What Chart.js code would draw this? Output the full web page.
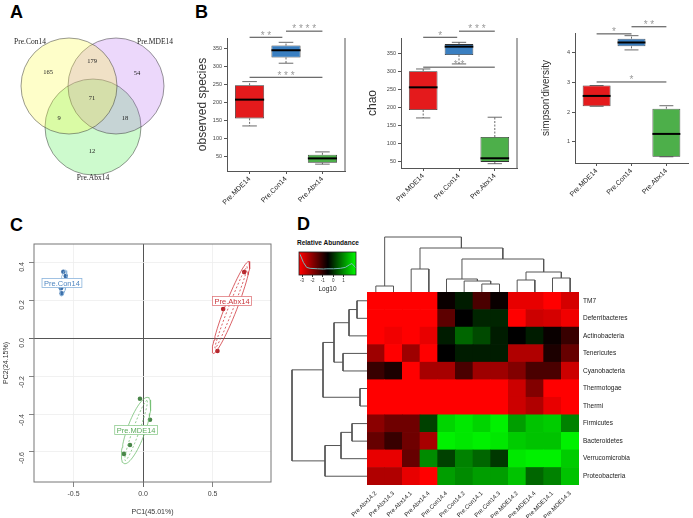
<!DOCTYPE html>
<html lang="en">
<head>
<meta charset="UTF-8">
<title>Pre-treatment microbiota panels</title>
<script src="https://cdn.jsdelivr.net/npm/chart.js"></script>
<style>
    body { margin: 0; background: #fff; font-family: "Liberation Sans", Arial, sans-serif; }
    #fig { position: relative; width: 693px; height: 518px; overflow: hidden; }
    #fig canvas { position: absolute; }
    .tag { position: absolute; font-weight: bold; font-size: 18px; line-height: 18px; color: #000; }
    .keytitle { position: absolute; font-weight: bold; font-size: 6.5px; line-height: 8px; color: #111; }
</style>
</head>
<body>
<div id="fig">
    <div class="tag" style="left:10px;top:3px">A</div>
    <div class="tag" style="left:195px;top:3px">B</div>
    <div class="tag" style="left:10px;top:216px">C</div>
    <div class="tag" style="left:297px;top:215px">D</div>
    <div class="keytitle" style="left:297px;top:239px">Relative Abundance</div>

    <canvas id="venn" width="190" height="200" style="left:0;top:0"></canvas>
    <canvas id="obs" width="160" height="210" style="left:190px;top:15px"></canvas>
    <canvas id="chao" width="170" height="210" style="left:352px;top:15px"></canvas>
    <canvas id="simp" width="163" height="215" style="left:530px;top:10px"></canvas>
    <canvas id="pca" width="290" height="282" style="left:0;top:236px"></canvas>
    <canvas id="key" width="68" height="58" style="left:295px;top:236px"></canvas>
    <canvas id="dtop" width="212" height="62" style="left:367px;top:230px"></canvas>
    <canvas id="dleft" width="82" height="193" style="left:285px;top:292px"></canvas>
    <canvas id="heat" width="353" height="226" style="left:340px;top:292px"></canvas>
</div>

<script>
    // ---- A: Venn ----
    const vennSets = ['Pre.Con14', 'Pre.MDE14', 'Pre.Abx14'];
    // Con only, Con&MDE, MDE only, all three, Con&Abx, MDE&Abx, Abx only
    const vennCounts = [165, 179, 54, 71, 9, 18, 12];

    // ---- B: alpha diversity boxplots ----
    const groups = ['Pre.MDE14', 'Pre.Con14', 'Pre.Abx14'];
    const obsLow = [135, 309, 29];
    const obsQ1 = [156, 325, 33];
    const obsMed = [208, 345, 45];
    const obsQ3 = [248, 358, 55];
    const obsHigh = [258, 367, 63];
    const obsSig = [[1, 1.9, 381, '**'], [2, 3, 398, '****'], [1, 3, 270, '***']];
    const obsTicks = [50, 100, 150, 200, 250, 300, 350];

    const chaoLow = [170, 320, 43];
    const chaoQ1 = [192, 345, 48];
    const chaoMed = [255, 368, 58];
    const chaoQ3 = [300, 375, 117];
    const chaoHigh = [306, 380, 172];
    const chaoSig = [[1, 1.95, 394, '*'], [2, 3, 411, '***'], [1, 3, 311, '**']];
    const chaoTicks = [50, 100, 150, 200, 250, 300, 350];

    const simLow = [2.2, 4.1, 0.5];
    const simQ1 = [2.2, 4.22, 0.5];
    const simMed = [2.55, 4.35, 1.27];
    const simQ3 = [2.9, 4.48, 2.12];
    const simHigh = [2.9, 4.58, 2.22];
    const simSig = [[1, 2, 4.64, '*'], [2, 3, 4.88, '**'], [1, 3, 3.02, '*']];
    const simTicks = [1, 2, 3, 4];

    // ---- C: PCA ----
    const conPC1 = [-0.573, -0.556, -0.590, -0.585];
    const conPC2 = [0.349, 0.326, 0.262, 0.235];
    const abxPC1 = [0.727, 0.576, 0.535];
    const abxPC2 = [0.347, 0.153, -0.068];
    const mdePC1 = [-0.022, 0.050, -0.094, -0.137];
    const mdePC2 = [-0.320, -0.430, -0.563, -0.610];
    // confidence ellipses: centre, half major axis, half minor axis (PC units)
    const conEllipse = [-0.572, 0.289, 0.0144, 0.068, 0.021, -0.0024];
    const abxEllipse = [0.633, 0.161, 0.129, 0.242, 0.040, -0.012];
    const abxInner = [0.633, 0.161, 0.115, 0.215, 0.016, -0.005];
    const mdeEllipse = [-0.050, -0.487, 0.086, 0.174, 0.061, -0.016];
    const mdeInner = [-0.050, -0.487, 0.078, 0.158, 0.022, -0.006];
    const pcaXTicks = [-0.5, 0, 0.5];
    const pcaYTicks = [-0.6, -0.4, -0.2, 0, 0.2, 0.4];

    // ---- D: heatmap (log10 relative abundance) ----
    const phyla = ['TM7', 'Deferribacteres', 'Actinobacteria', 'Tenericutes', 'Cyanobacteria',
        'Thermotogae', 'Thermi', 'Firmicutes', 'Bacteroidetes', 'Verrucomicrobia', 'Proteobacteria'];
    const samples = ['Pre.Abx14.2', 'Pre.Abx14.3', 'Pre.Abx14.1', 'Pre.Abx14.4', 'Pre.Con14.4', 'Pre.Con14.2',
        'Pre.Con14.1', 'Pre.Con14.3', 'Pre.MDE14.2', 'Pre.MDE14.4', 'Pre.MDE14.1', 'Pre.MDE14.3'];
    const heat = [
        [-3.3, -3.3, -3.3, -3.3, -0.6, -0.2, -1.3, -0.6, -3.0, -3.0, -3.3, -2.8],
        [-3.3, -3.3, -3.3, -3.3, -1.5, -0.5, -0.1, -0.1, -3.3, -2.7, -2.8, -3.1],
        [-3.3, -3.1, -3.3, -3.0, -0.2, 0.6, 0.3, -0.2, -0.5, -0.2, -0.6, -1.1],
        [-2.2, -3.3, -2.2, -3.3, -0.5, -0.2, -0.2, -0.2, -2.4, -2.4, -0.8, -1.6],
        [-1.1, -0.8, -3.3, -2.3, -2.3, -1.3, -2.2, -2.2, -1.9, -1.3, -1.3, -2.7],
        [-3.3, -3.3, -3.3, -3.3, -3.3, -3.3, -3.3, -3.3, -2.7, -1.9, -3.3, -3.3],
        [-3.3, -3.3, -3.3, -3.3, -3.3, -3.3, -3.3, -3.3, -2.7, -2.4, -3.0, -3.3],
        [-2.0, -1.7, -1.7, 0.2, 1.8, 2.0, 1.8, 2.1, 1.2, 1.6, 1.7, 0.9],
        [-1.6, -1.1, -1.7, -2.3, 2.1, 2.0, 2.1, 2.0, 1.7, 1.6, 1.6, 2.1],
        [-3.0, -3.0, -1.6, 1.0, 0.2, 0.9, 0.6, 0.1, 2.0, 2.1, 2.1, 1.7],
        [-2.4, -2.4, -3.0, -3.3, 1.2, 1.0, 1.2, 1.2, 1.6, 0.6, 0.9, 1.6]
    ];
    // hclust style merges: [left, right, height]; negative = leaf
    const colMerges = [[-1, -2, 6], [-7, -8, 8], [-6, 2, 11], [-5, 3, 13], [-9, -10, 12], [-11, -12, 14],
        [5, 6, 20], [-3, -4, 23], [4, 7, 33], [8, 9, 44], [1, 10, 55]];
    const rowMerges = [[-6, -7, 7], [-1, -2, 10], [-8, -9, 15], [2, -3, 18], [-4, -5, 24], [3, -10, 26],
        [4, 5, 33], [6, -11, 42], [7, 1, 44], [9, 8, 75]];
    const keyTicks = [-3, -2, -1, 0, 1];
    const densX = [-3.2, -2.88, -2.56, -2.23, -1.5, -0.94, -0.61, 0.03, 0.68, 1.17, 1.59, 1.81, 2.04, 2.2];
    const densY = [0.9, 0.55, 0.33, 0.29, 0.27, 0.26, 0.27, 0.27, 0.29, 0.33, 0.45, 0.5, 0.38, 0.3];

    // ---------- helpers ----------
    const SANS = '"Liberation Sans", Arial, sans-serif';
    const SERIF = '"Liberation Serif", "DejaVu Serif", serif';
    Chart.defaults.font.family = SANS;
    Chart.defaults.animation = false;
    Chart.defaults.responsive = false;
    Chart.defaults.devicePixelRatio = 1;
    Chart.defaults.layout.autoPadding = false;
    Chart.defaults.plugins.legend.display = false;
    Chart.defaults.plugins.tooltip.enabled = false;

    // vertical axes add half a label of padding above/below; drop it so areas line up
    const noPad = s => { s.paddingTop = 0; s.paddingBottom = 0; };

    const marksPlugin = {
        id: 'marks',
        afterDatasetsDraw(chart, args, o) {
            if (!o.items) return;
            const ctx = chart.ctx, xs = chart.scales.x, ys = chart.scales.y;
            o.items.forEach(m => {
                const px = xs.getPixelForValue(m.x), py = ys.getPixelForValue(m.y);
                ctx.save();
                ctx.font = m.font;
                ctx.textAlign = 'center';
                ctx.textBaseline = 'middle';
                if (m.box) {
                    const w = ctx.measureText(m.text).width + 4, h = 9;
                    ctx.fillStyle = '#fff';
                    ctx.fillRect(px - w / 2, py - h / 2, w, h);
                    ctx.strokeStyle = m.box;
                    ctx.lineWidth = 0.8;
                    ctx.strokeRect(px - w / 2, py - h / 2, w, h);
                }
                ctx.fillStyle = m.color;
                ctx.fillText(m.text, px, py + 0.5);
                ctx.restore();
            });
        }
    };

    function seg(ctx, x1, y1, x2, y2) {
        ctx.beginPath(); ctx.moveTo(x1, y1); ctx.lineTo(x2, y2); ctx.stroke();
    }

    const boxPlugin = {
        id: 'boxExtras',
        afterDatasetsDraw(chart, args, o) {
            const ctx = chart.ctx, xs = chart.scales.x, ys = chart.scales.y, a = chart.chartArea;
            ctx.save();
            chart.getDatasetMeta(0).data.forEach((b, i) => {
                const half = b.width / 2, x = b.x;
                const yLo = ys.getPixelForValue(o.low[i]), yHi = ys.getPixelForValue(o.high[i]);
                const yQ1 = ys.getPixelForValue(o.q1[i]), yQ3 = ys.getPixelForValue(o.q3[i]);
                const yMed = ys.getPixelForValue(o.med[i]);
                ctx.strokeStyle = '#444';
                ctx.lineWidth = 0.8;
                ctx.setLineDash([2, 1.5]);
                seg(ctx, x, yQ3, x, yHi);
                seg(ctx, x, yQ1, x, yLo);
                ctx.setLineDash([]);
                seg(ctx, x - half / 2, yHi, x + half / 2, yHi);
                seg(ctx, x - half / 2, yLo, x + half / 2, yLo);
                ctx.strokeStyle = '#000';
                ctx.lineWidth = 2;
                seg(ctx, x - half, yMed, x + half, yMed);
            });
            ctx.lineWidth = 1;
            ctx.strokeStyle = '#444';
            ctx.fillStyle = '#9a9a9a';
            ctx.font = '10px ' + SANS;
            ctx.textAlign = 'center';
            ctx.textBaseline = 'bottom';
            o.sig.forEach(([from, to, v, label]) => {
                const x1 = xs.getPixelForValue(from), x2 = xs.getPixelForValue(to), y = ys.getPixelForValue(v);
                seg(ctx, x1, y, x2, y);
                ctx.fillText(label.split('').join(' '), (x1 + x2) / 2, y + 3.5);
            });
            if (o.rightBorder) {
                ctx.strokeStyle = '#555';
                seg(ctx, a.right, a.top, a.right, a.bottom);
            }
            ctx.restore();
        }
    };

    function boxChart(id, low, q1, med, q3, high, sig, ticks, yMin, yMax, title, d) {
        new Chart(document.getElementById(id), {
            type: 'bar',
            data: {
                datasets: [{
                    data: groups.map((g, i) => ({ x: i + 1, y: [q1[i], q3[i]] })),
                    backgroundColor: ['#e41a1c', '#3a7fc1', '#4daf4a'],
                    borderColor: '#333',
                    borderWidth: 0.8,
                    borderSkipped: false,
                    barPercentage: 0.8,
                    categoryPercentage: 1
                }]
            },
            options: {
                layout: { padding: { top: d.top, right: d.right, left: 0, bottom: 0 } },
                plugins: { boxExtras: { low, q1, med, q3, high, sig, rightBorder: d.rightBorder } },
                scales: {
                    x: {
                        type: 'linear', min: 0.38, max: 3.62, offset: false,
                        afterBuildTicks: s => { s.ticks = groups.map((g, i) => ({ value: i + 1 })); },
                        ticks: { callback: v => groups[v - 1], minRotation: 45, maxRotation: 45, autoSkip: false,
                            font: { size: 7 }, color: '#222', padding: 1 },
                        grid: { drawOnChartArea: false, offset: false, tickLength: 3, color: '#555' },
                        border: { color: '#555' },
                        afterFit: s => { s.height = d.xh; }
                    },
                    y: {
                        min: yMin, max: yMax,
                        afterBuildTicks: s => { s.ticks = ticks.map(v => ({ value: v })); },
                        ticks: { font: { size: 5.5 }, color: '#444', padding: 2 },
                        grid: { drawOnChartArea: false, tickLength: 3, color: '#555' },
                        border: { color: '#555' },
                        title: { display: true, text: title, color: '#333', font: { size: d.ts },
                            padding: { top: d.tp, bottom: 0 } },
                        afterFit: s => { s.width = d.yw; noPad(s); }
                    }
                }
            },
            plugins: [boxPlugin]
        });
    }

    // ---------- A ----------
    const vennLayout = { cx: [69, 116, 93], cy: [86, 86, 127], r: 48 };
    const vennFill = ['rgba(250,250,60,0.28)', 'rgba(175,90,240,0.24)', 'rgba(60,235,60,0.26)'];
    const vennNamePos = [[30, 42], [155, 42], [93, 178]];
    const vennCountPos = [[48, 72], [92, 61], [137, 73], [92, 98], [59, 118], [125, 118], [92, 151]];
    new Chart(document.getElementById('venn'), {
        type: 'bubble',
        data: {
            datasets: vennSets.map((s, i) => ({
                label: s,
                data: [{ x: vennLayout.cx[i], y: vennLayout.cy[i], r: vennLayout.r }],
                backgroundColor: vennFill[i],
                borderColor: 'rgba(60,60,60,0.65)',
                borderWidth: 0.8,
                clip: false
            }))
        },
        options: {
            layout: { padding: 0, autoPadding: false },
            scales: {
                x: { display: false, min: 0, max: 190 },
                y: { display: false, min: 0, max: 200, reverse: true }
            },
            plugins: {
                marks: {
                    items: vennSets.map((s, i) => ({ x: vennNamePos[i][0], y: vennNamePos[i][1], text: s,
                        font: '7.5px ' + SERIF, color: '#222' }))
                        .concat(vennCounts.map((c, i) => ({ x: vennCountPos[i][0], y: vennCountPos[i][1],
                            text: String(c), font: '6.5px ' + SERIF, color: '#222' })))
                }
            }
        },
        plugins: [marksPlugin]
    });

    // ---------- B ----------
    boxChart('obs', obsLow, obsQ1, obsMed, obsQ3, obsHigh, obsSig, obsTicks, 10, 379, 'observed species',
        { top: 23, right: 5, xh: 54, yw: 37, ts: 12, tp: 5, rightBorder: true });
    boxChart('chao', chaoLow, chaoQ1, chaoMed, chaoQ3, chaoHigh, chaoSig, chaoTicks, 31, 392, 'chao',
        { top: 23, right: 5, xh: 57, yw: 49, ts: 12, tp: 13, rightBorder: true });
    boxChart('simp', simLow, simQ1, simMed, simQ3, simHigh, simSig, simTicks, 0.29, 4.67, "simpson'diversity",
        { top: 23, right: 5, xh: 62, yw: 45, ts: 10, tp: 10, rightBorder: false });

    // ---------- C ----------
    function ellipsePts(e) {
        const [cx, cy, ax, ay, bx, by] = e, pts = [];
        for (let k = 0; k <= 60; k++) {
            const t = k / 60 * Math.PI * 2;
            pts.push({ x: cx + ax * Math.cos(t) + bx * Math.sin(t), y: cy + ay * Math.cos(t) + by * Math.sin(t) });
        }
        return pts;
    }
    const ell = (e, color, dash) => ({ data: ellipsePts(e), showLine: true, pointRadius: 0, borderColor: color,
        borderWidth: 0.8, borderDash: dash || [], fill: false });
    const pts = (xs, ys, color) => ({ data: xs.map((x, i) => ({ x, y: ys[i] })), pointRadius: 2.3,
        backgroundColor: color, borderColor: color, borderWidth: 0 });
    const frame = {
        id: 'frame',
        afterDatasetsDraw(chart) {
            const a = chart.chartArea, ctx = chart.ctx;
            ctx.save();
            ctx.strokeStyle = '#777';
            ctx.lineWidth = 1;
            ctx.strokeRect(a.left, a.top, a.right - a.left, a.bottom - a.top);
            ctx.restore();
        }
    };
    const pcaGrid = {
        drawOnChartArea: true, tickLength: 5,
        color: c => (c.tick && c.tick.value === 0) ? '#555' : '#eeeeee',
        lineWidth: c => (c.tick && c.tick.value === 0) ? 1 : 0.8,
        tickColor: '#666'
    };
    new Chart(document.getElementById('pca'), {
        type: 'scatter',
        data: {
            datasets: [
                ell(conEllipse, '#86b2da'),
                ell(abxEllipse, '#d0393f'),
                ell(abxInner, '#d0393f', [2, 2]),
                ell(mdeEllipse, '#74bf74'),
                ell(mdeInner, '#74bf74', [2, 2]),
                pts(conPC1, conPC2, '#3b6ea8'),
                pts(abxPC1, abxPC2, '#b3262c'),
                pts(mdePC1, mdePC2, '#4a864a')
            ]
        },
        options: {
            layout: { padding: { top: 8, right: 19, left: 0, bottom: 0 } },
            scales: {
                x: {
                    min: -0.784, max: 0.92,
                    afterBuildTicks: s => { s.ticks = pcaXTicks.map(v => ({ value: v })); },
                    ticks: { callback: v => v.toFixed(1), font: { size: 7 }, color: '#444', padding: 3 },
                    grid: pcaGrid,
                    border: { display: false },
                    title: { display: true, text: 'PC1(45.01%)', font: { size: 7 }, color: '#333',
                        padding: { top: 0, bottom: 2 } },
                    afterFit: s => { s.height = 36; }
                },
                y: {
                    min: -0.758, max: 0.495,
                    afterBuildTicks: s => { s.ticks = pcaYTicks.map(v => ({ value: v })); },
                    ticks: { callback: v => v.toFixed(1), font: { size: 7 }, color: '#444', padding: 7,
                        minRotation: 90, maxRotation: 90 },
                    grid: pcaGrid,
                    border: { display: false },
                    title: { display: true, text: 'PC2(24.15%)', font: { size: 7 }, color: '#333',
                        padding: { top: 2, bottom: 0 } },
                    afterFit: s => { s.width = 34; noPad(s); }
                }
            },
            plugins: {
                marks: {
                    items: [
                        { x: -0.583, y: 0.29, text: 'Pre.Con14', font: '7.5px ' + SANS, color: '#4f86c0', box: '#8ab4dc' },
                        { x: 0.64, y: 0.195, text: 'Pre.Abx14', font: '7.5px ' + SANS, color: '#c9353b', box: '#e07a7e' },
                        { x: -0.05, y: -0.484, text: 'Pre.MDE14', font: '7.5px ' + SANS, color: '#5aaa5a', box: '#90cc90' }
                    ]
                }
            }
        },
        plugins: [frame, marksPlugin]
    });

    // ---------- D ----------
    function heatColor(v) {
        const lo = -3.25, mid = -0.5, hi = 2.25;
        if (v <= mid) {
            const t = Math.min(1, (mid - v) / (mid - lo));
            return 'rgb(' + Math.round(255 * t) + ',0,0)';
        }
        const t = Math.min(1, (v - mid) / (hi - mid));
        return 'rgb(0,' + Math.round(255 * t) + ',0)';
    }

    function dendro(merges) {
        const pos = [], hgt = [], segs = [];
        merges.forEach(([a, b, h], k) => {
            const pa = a < 0 ? -a - 1 : pos[a - 1], ha = a < 0 ? 0 : hgt[a - 1];
            const pb = b < 0 ? -b - 1 : pos[b - 1], hb = b < 0 ? 0 : hgt[b - 1];
            segs.push([[pa, ha], [pa, h], [pb, h], [pb, hb]]);
            pos[k] = (pa + pb) / 2;
            hgt[k] = h;
        });
        return segs;
    }
    const dendroLine = data => ({ data, showLine: true, pointRadius: 0, borderColor: '#555', borderWidth: 1, clip: false });

    new Chart(document.getElementById('dtop'), {
        type: 'scatter',
        data: { datasets: dendro(colMerges).map(s => dendroLine(s.map(([p, h]) => ({ x: p, y: h })))) },
        options: {
            layout: { padding: 0 },
            scales: { x: { display: false, min: -0.5, max: 11.5 }, y: { display: false, min: 0, max: 62 } }
        }
    });
    new Chart(document.getElementById('dleft'), {
        type: 'scatter',
        data: { datasets: dendro(rowMerges).map(s => dendroLine(s.map(([p, h]) => ({ x: h, y: p })))) },
        options: {
            layout: { padding: 0 },
            scales: {
                x: { display: false, min: 0, max: 82, reverse: true },
                y: { display: false, min: -0.5, max: 10.5, reverse: true }
            }
        }
    });

    new Chart(document.getElementById('heat'), {
        type: 'bar',
        data: {
            labels: samples,
            datasets: phyla.map((p, j) => ({
                label: p,
                data: samples.map(() => 1),
                backgroundColor: heat[j].map(heatColor),
                borderWidth: 0,
                barPercentage: 1,
                categoryPercentage: 1
            })).reverse()
        },
        options: {
            layout: { padding: { left: 27, top: 0, right: 0, bottom: 0 } },
            scales: {
                x: {
                    stacked: true,
                    ticks: { minRotation: 45, maxRotation: 45, autoSkip: false, font: { size: 6 }, color: '#222', padding: 5 },
                    grid: { display: false, drawTicks: false },
                    border: { display: false },
                    afterFit: s => { s.height = 33; }
                },
                y: {
                    stacked: true, position: 'right', min: 0, max: 11,
                    afterBuildTicks: s => { s.ticks = phyla.map((p, j) => ({ value: 10.5 - j })); },
                    ticks: { callback: v => phyla[Math.round(10.5 - v)], font: { size: 6.5 }, color: '#222', padding: 4 },
                    grid: { display: false, drawTicks: false },
                    border: { display: false },
                    afterFit: s => { s.width = 114; noPad(s); }
                }
            }
        }
    });

    const keyGradient = {
        id: 'keyGradient',
        beforeDatasetsDraw(chart) {
            const a = chart.chartArea, ctx = chart.ctx, xs = chart.scales.x;
            const g = ctx.createLinearGradient(xs.getPixelForValue(-3.25), 0, xs.getPixelForValue(2.25), 0);
            g.addColorStop(0, '#ff0000');
            g.addColorStop(0.5, '#000000');
            g.addColorStop(1, '#00ff00');
            ctx.save();
            ctx.fillStyle = g;
            ctx.fillRect(a.left, a.top, a.right - a.left, a.bottom - a.top);
            ctx.restore();
        },
        afterDatasetsDraw(chart) {
            const a = chart.chartArea, ctx = chart.ctx;
            ctx.save();
            ctx.strokeStyle = '#222';
            ctx.lineWidth = 0.8;
            ctx.strokeRect(a.left, a.top, a.right - a.left, a.bottom - a.top);
            ctx.restore();
        }
    };
    new Chart(document.getElementById('key'), {
        type: 'scatter',
        data: { datasets: [{ data: densX.map((x, i) => ({ x, y: densY[i] })), showLine: true, pointRadius: 0,
            borderColor: '#78b8b8', borderWidth: 1 }] },
        options: {
            layout: { padding: { left: 4, right: 7, top: 16, bottom: 0 } },
            scales: {
                x: {
                    min: -3.3, max: 2.2,
                    afterBuildTicks: s => { s.ticks = keyTicks.map(v => ({ value: v })); },
                    ticks: { font: { size: 4.5 }, color: '#333', padding: 1 },
                    grid: { drawOnChartArea: false, tickLength: 2, color: '#333' },
                    border: { display: false },
                    title: { display: true, text: 'Log10', font: { size: 6.5 }, color: '#222', padding: { top: 0, bottom: 1 } },
                    afterFit: s => { s.height = 19; }
                },
                y: { display: false, min: 0, max: 1 }
            }
        },
        plugins: [keyGradient]
    });
</script>
</body>
</html>
